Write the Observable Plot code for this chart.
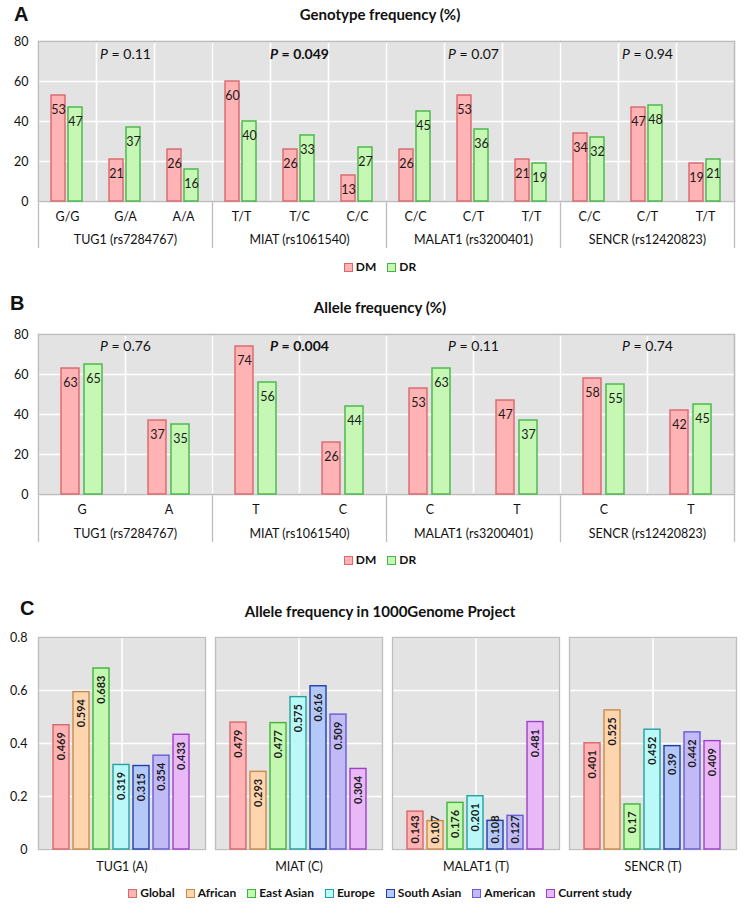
<!DOCTYPE html>
<html><head><meta charset="utf-8">
<script src="https://cdn.jsdelivr.net/npm/d3@7"></script>
<script src="https://cdn.jsdelivr.net/npm/@observablehq/plot@0.6"></script>
<style>
body{margin:0;background:#fff;font-family:Lato,"Open Sans",sans-serif;color:#111;}
#wrap{position:relative;width:753px;height:914px;overflow:hidden;}
.abs{position:absolute;}
.letter{font-family:"Liberation Sans",Arial,sans-serif;font-weight:bold;font-size:20px;line-height:20px;}
.title{left:0;width:760px;text-align:center;font-weight:bold;font-size:15px;line-height:18px;}
.legend{left:0;width:760px;display:flex;justify-content:center;gap:11px;font-weight:bold;font-size:12px;line-height:14px;}
.legend .item{display:flex;align-items:center;}
.legend .sw{display:inline-block;width:7px;height:7px;border:1.5px solid;margin-right:3px;}
svg{position:absolute;left:0;}
</style></head><body><div id="wrap"></div>
<script>
// ---------- data ----------
const genes = ["TUG1 (rs7284767)", "MIAT (rs1061540)", "MALAT1 (rs3200401)", "SENCR (rs12420823)"];
const genotypes = [["G/G","G/A","A/A"],["T/T","T/C","C/C"],["C/C","C/T","T/T"],["C/C","C/T","T/T"]];
const genoDM = [[53,21,26],[60,26,13],[26,53,21],[34,47,19]];
const genoDR = [[47,37,16],[40,33,27],[45,36,19],[32,48,21]];
const genoP = ["0.11","0.049","0.07","0.94"];
const genoSig = [false,true,false,false];

const alleles = [["G","A"],["T","C"],["C","T"],["C","T"]];
const alleleDM = [[63,37],[74,26],[53,47],[58,42]];
const alleleDR = [[65,35],[56,44],[63,37],[55,45]];
const alleleP = ["0.76","0.004","0.11","0.74"];
const alleleSig = [false,true,false,false];

const groups = ["DM","DR"];
const groupFill = ["#ffb3b4","#c6f7b4"];
const groupStroke = ["#d9676c","#45b545"];
const pctTicks = [0,20,40,60,80];

const genes1000 = ["TUG1 (A)","MIAT (C)","MALAT1 (T)","SENCR (T)"];
const populations = ["Global","African","East Asian","Europe","South Asian","American","Current study"];
const popFreq = [
  [0.469,0.594,0.683,0.319,0.315,0.354,0.433],
  [0.479,0.293,0.477,0.575,0.616,0.509,0.304],
  [0.143,0.107,0.176,0.201,0.108,0.127,0.481],
  [0.401,0.525,0.17,0.452,0.39,0.442,0.409]
];
const popFill = ["#ffb3b4","#fdd6b0","#c4f7af","#baf9f7","#b4c9f7","#c2baf7","#e9b9f7"];
const popStroke = ["#d9676c","#c98a46","#3db53d","#23a0a0","#1d3fae","#6a5bd6","#9f3fc9"];
const freqTicks = [0,0.2,0.4,0.6,0.8];

const titles = ["Genotype frequency (%)","Allele frequency (%)","Allele frequency in 1000Genome Project"];
const letters = ["A","B","C"];

// ---------- helpers ----------
const wrap = document.getElementById("wrap");
const BG = "#e3e3e3", BORDER = "#bdbdbd";
const FONT = "Lato, 'Open Sans', sans-serif";

function addDiv(cls, text, top, left) {
  const d = document.createElement("div");
  d.className = "abs " + cls;
  d.textContent = text;
  d.style.top = top + "px";
  if (left != null) d.style.left = left + "px";
  wrap.appendChild(d);
  return d;
}
function addLegend(names, fills, strokes, top) {
  const d = document.createElement("div");
  d.className = "abs legend";
  d.style.top = top + "px";
  names.forEach((n, i) => {
    const it = document.createElement("span");
    it.className = "item";
    const sw = document.createElement("span");
    sw.className = "sw";
    sw.style.background = fills[i];
    sw.style.borderColor = strokes[i];
    it.appendChild(sw);
    it.appendChild(document.createTextNode(n));
    d.appendChild(it);
  });
  wrap.appendChild(d);
}
function place(svg, top) {
  svg.style.top = top + "px";
  wrap.appendChild(svg);
}
function italicP(svg) {
  d3.select(svg).selectAll("text").each(function() {
    const t = this.textContent;
    if (!/^P = /.test(t) || this.children.length) return;
    const s = d3.select(this);
    s.text(null);
    s.append("tspan").attr("font-style", "italic").text(t.slice(0, 1));
    s.append("tspan").text(t.slice(1));
  });
}

function groupedChart({cats, dm, dr, pvals, sig, pin, pout, height, tickPad, geneDy, pDy, sepLen}) {
  const rows = [], keys = [], firstKeys = [], anchorRows = [];
  const odd = cats[0].length % 2 === 1;
  genes.forEach((g, gi) => {
    const ks = cats[gi].map(c => g + "|" + c);
    keys.push(...ks);
    firstKeys.push(ks[0]);
    cats[gi].forEach((c, ci) => {
      rows.push({key: ks[ci], group: "DM", value: dm[gi][ci]});
      rows.push({key: ks[ci], group: "DR", value: dr[gi][ci]});
    });
    const n = ks.length;
    anchorRows.push({key: odd ? ks[(n - 1) / 2] : ks[n / 2 - 1], gene: g, p: "P = " + pvals[gi], sig: sig[gi]});
  });
  const lastKey = keys[keys.length - 1];
  const fa = odd ? "" : "-right";
  const plotH = 160;
  return Plot.plot({
    width: 753, height,
    marginLeft: 36, marginRight: 17, marginTop: 11, marginBottom: height - 11 - plotH,
    style: {fontFamily: FONT, fontSize: "12.5px", color: "#111", background: "transparent", overflow: "visible"},
    fx: {domain: keys, padding: 0, axis: "bottom", tickSize: 0, tickPadding: tickPad, tickFormat: k => k.split("|")[1], label: null},
    x: {domain: groups, paddingInner: pin, paddingOuter: pout, axis: null},
    y: {domain: [0, 80], ticks: pctTicks, tickSize: 0, tickPadding: 10, label: null},
    color: {domain: groups, range: groupFill},
    marks: [
      Plot.frame({fill: BG}),
      ...firstKeys.map(k => Plot.frame({fx: [k], anchor: "left", stroke: BORDER, strokeWidth: 1.3, insetBottom: -sepLen})),
      Plot.frame({fx: [lastKey], anchor: "right", stroke: BORDER, strokeWidth: 1.3, insetBottom: -sepLen}),
      Plot.frame({anchor: "left", stroke: "white", strokeWidth: 1.6}),
      Plot.gridY(pctTicks, {stroke: "white", strokeOpacity: 1, strokeWidth: 1.6}),
      Plot.frame({fx: [keys[0]], anchor: "left", stroke: BORDER, strokeWidth: 1.3}),
      Plot.frame({fx: [lastKey], anchor: "right", stroke: BORDER, strokeWidth: 1.3}),
      Plot.frame({anchor: "top", stroke: BORDER, strokeWidth: 1.3}),
      Plot.frame({anchor: "bottom", stroke: BORDER, strokeWidth: 1.3}),
      Plot.barY(rows, {fx: "key", x: "group", y: "value", fill: "group",
        stroke: d => groupStroke[groups.indexOf(d.group)], strokeWidth: 1.4}),
      Plot.text(rows, {fx: "key", x: "group", y: "value", text: d => String(d.value), dy: 14, fontSize: 12.5, fill: "#1a1a1a"}),
      Plot.text(anchorRows, {fx: "key", text: "gene", frameAnchor: "bottom" + fa, textAnchor: "middle", lineAnchor: "middle", dy: geneDy, fontSize: 12.5, fill: "#111"}),
      Plot.text(anchorRows.filter(d => !d.sig), {fx: "key", text: "p", frameAnchor: "top" + fa, textAnchor: "middle", lineAnchor: "middle", dy: pDy, fontSize: 14, fill: "#111"}),
      Plot.text(anchorRows.filter(d => d.sig), {fx: "key", text: "p", frameAnchor: "top" + fa, textAnchor: "middle", lineAnchor: "middle", dy: pDy, fontSize: 14, fontWeight: "bold", fill: "#111"})
    ]
  });
}

// ---------- Panel A ----------
addDiv("letter", letters[0], 4, 14);
addDiv("title", titles[0], 5);
const svgA = groupedChart({cats: genotypes, dm: genoDM, dr: genoDR, pvals: genoP, sig: genoSig,
  pin: 0.17, pout: 0.78, height: 225, tickPad: 11, geneDy: 38, pDy: 13, sepLen: 46});
italicP(svgA);
place(svgA, 30);
addLegend(groups, groupFill, groupStroke, 260);

// ---------- Panel B ----------
addDiv("letter", letters[1], 293, 10);
addDiv("title", titles[1], 298);
const svgB = groupedChart({cats: alleles, dm: alleleDM, dr: alleleDR, pvals: alleleP, sig: alleleSig,
  pin: 0.21, pout: 0.94, height: 224, tickPad: 11, geneDy: 39, pDy: 12, sepLen: 47});
italicP(svgB);
place(svgB, 323);
addLegend(groups, groupFill, groupStroke, 553);

// ---------- Panel C ----------
addDiv("letter", letters[2], 598, 20);
addDiv("title", titles[2], 602);
const rowsC = [];
genes1000.forEach((g, gi) => populations.forEach((p, pi) => rowsC.push({gene: g, pop: p, value: popFreq[gi][pi]})));
// labels sit inside the bar top; bars too short for that get their label from the bar base instead
const labelMin = 0.15;
const labelStyle = {fx: "gene", x: "pop", text: d => String(d.value), rotate: -90,
  fontSize: 11, fontWeight: "bold", fontFamily: FONT, fill: "#1a1a1a"};
const svgC = Plot.plot({
  width: 753, height: 253,
  marginLeft: 38, marginRight: 16, marginTop: 11, marginBottom: 30,
  style: {fontFamily: FONT, fontSize: "12.5px", color: "#111", background: "transparent", overflow: "visible"},
  fx: {domain: genes1000, paddingInner: 0.054, paddingOuter: 0, axis: "bottom", tickSize: 0, tickPadding: 13, label: null},
  x: {domain: populations, paddingInner: 0.18, paddingOuter: 0.72, axis: null},
  y: {domain: [0, 0.8], ticks: freqTicks, tickFormat: d => String(d), tickSize: 0, tickPadding: 11, label: null},
  color: {domain: populations, range: popFill},
  marks: [
    Plot.frame({fill: BG}),
    Plot.gridY(freqTicks, {stroke: "white", strokeOpacity: 1, strokeWidth: 1.6}),
    Plot.ruleX([0], {x: null, stroke: "white", strokeWidth: 1.6}),
    Plot.frame({stroke: BORDER, strokeWidth: 1.3}),
    Plot.barY(rowsC, {fx: "gene", x: "pop", y: "value", fill: "pop",
      stroke: d => popStroke[populations.indexOf(d.pop)], strokeWidth: 1.4}),
    Plot.text(rowsC.filter(d => d.value >= labelMin), {...labelStyle, y: "value", textAnchor: "end", dy: 7}),
    Plot.text(rowsC.filter(d => d.value < labelMin), {...labelStyle, y: () => 0, textAnchor: "start", dy: -6})
  ]
});
place(svgC, 626);
addLegend(populations, popFill, popStroke, 886);
</script>
</body></html>
